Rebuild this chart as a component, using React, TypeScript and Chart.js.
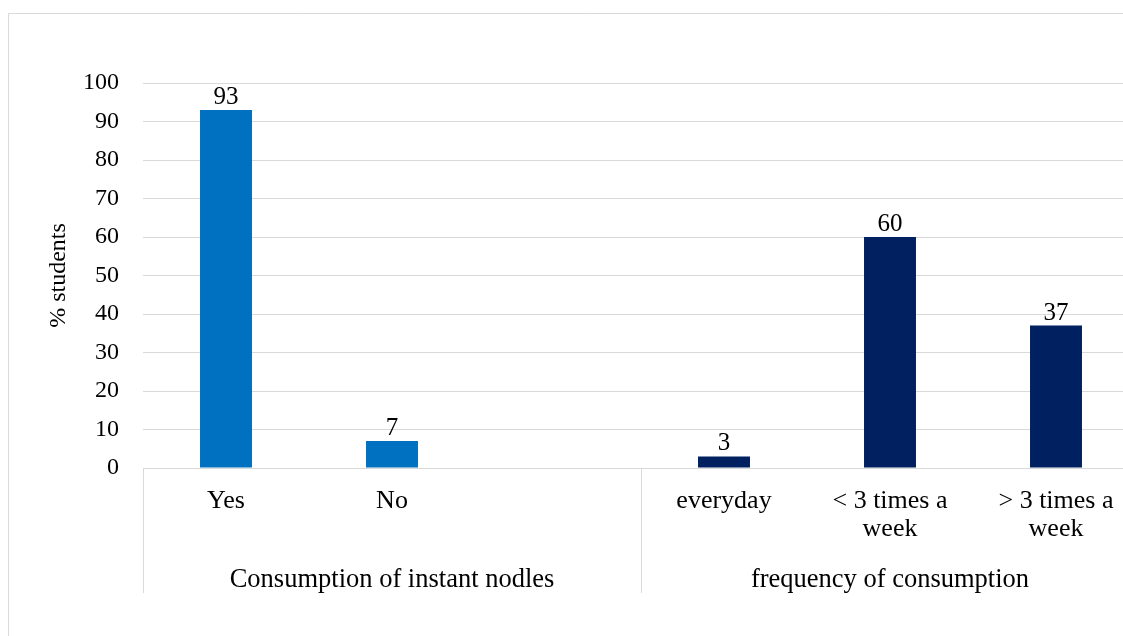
import React, { useEffect, useRef } from "react";
import { Chart, registerables } from "chart.js";

Chart.register(...registerables);

const categories: (string | string[])[] = ["Yes", "No", "", "everyday", ["< 3 times a", "week"], ["> 3 times a", "week"]];
const values: (number | null)[] = [93, 7, null, 3, 60, 37];
const barColors: string[] = ["#0070C0", "#0070C0", "#0070C0", "#002060", "#002060", "#002060"];
const groupLabels: string[] = ["Consumption of instant nodles", "frequency of consumption"];
const groupSizes: number[] = [3, 3];
const yTitle = "% students";

const FONT = "'Liberation Serif', 'Times New Roman', serif";
const GRID = "#d9d9d9";
const TEXT = "#000000";

const extrasPlugin = {
  id: "extras",
  afterDraw(chart: any) {
    const ctx = chart.ctx;
    const area = chart.chartArea;
    ctx.save();
    // outer chart border (top + left visible)
    ctx.strokeStyle = GRID;
    ctx.lineWidth = 1;
    ctx.beginPath();
    ctx.moveTo(8.5, chart.height + 2);
    ctx.lineTo(8.5, 13.5);
    ctx.lineTo(chart.width + 2, 13.5);
    ctx.stroke();

    // data labels
    const meta = chart.getDatasetMeta(0);
    ctx.fillStyle = TEXT;
    ctx.font = `25px ${FONT}`;
    ctx.textAlign = "center";
    ctx.textBaseline = "alphabetic";
    meta.data.forEach((bar: any, i: number) => {
      const v = values[i];
      if (v === null || v === undefined) return;
      ctx.fillText(String(v), bar.x, bar.y - 6);
    });

    // group separators and labels
    const catW = (area.right - area.left) / categories.length;
    let idx = 0;
    const sepTop = area.bottom;
    const sepBottom = 593;
    ctx.strokeStyle = GRID;
    ctx.beginPath();
    const boundaries: number[] = [area.left];
    groupSizes.forEach((n) => {
      idx += n;
      boundaries.push(area.left + idx * catW);
    });
    boundaries.forEach((bx) => {
      const px = Math.round(bx) + 0.5;
      ctx.moveTo(px, sepTop);
      ctx.lineTo(px, sepBottom);
    });
    ctx.stroke();

    ctx.font = `26.5px ${FONT}`;
    ctx.fillStyle = TEXT;
    ctx.textAlign = "center";
    groupLabels.forEach((g, gi) => {
      const cx = (boundaries[gi] + boundaries[gi + 1]) / 2;
      ctx.fillText(g, cx, 587);
    });
    ctx.restore();
  },
};

export default function App() {
  const ref = useRef<HTMLCanvasElement | null>(null);

  useEffect(() => {
    if (!ref.current) return;
    const chart = new Chart(ref.current, {
      type: "bar",
      data: {
        labels: categories as any,
        datasets: [
          {
            data: values as any,
            backgroundColor: barColors,
            borderWidth: 0,
            barPercentage: 0.313,
            categoryPercentage: 1,
          },
        ],
      },
      options: {
        responsive: false,
        animation: false,
        devicePixelRatio: 1,
        layout: { padding: { left: 0, top: 83, right: 31, bottom: 0 } },
        plugins: {
          legend: { display: false },
          tooltip: { enabled: false },
        },
        scales: {
          x: {
            grid: { display: false, drawTicks: false },
            border: { display: false },
            ticks: {
              color: TEXT,
              font: { family: FONT, size: 26, lineHeight: 1.08 },
              padding: 19,
              maxRotation: 0,
              autoSkip: false,
            },
            afterFit(scale: any) {
              scale.height = 168;
            },
          },
          y: {
            min: 0,
            max: 100,
            grid: { color: GRID, lineWidth: 1, drawTicks: false },
            border: { display: false },
            ticks: {
              stepSize: 10,
              color: TEXT,
              font: { family: FONT, size: 24 },
              padding: 24,
            },
            title: {
              display: true,
              text: yTitle,
              color: TEXT,
              font: { family: FONT, size: 24, lineHeight: 1.2 },
              padding: { top: 44, bottom: 0 },
            },
            afterFit(scale: any) {
              scale.width = 143;
            },
          },
        },
      },
      plugins: [extrasPlugin],
    });
    return () => chart.destroy();
  }, []);

  return (
    <div
      style={{
        position: "fixed",
        left: 0,
        top: 0,
        width: 1123,
        height: 636,
        overflow: "hidden",
        background: "#ffffff",
      }}
    >
      <canvas ref={ref} width={1170} height={636} style={{ display: "block", width: 1170, height: 636 }} />
    </div>
  );
}
